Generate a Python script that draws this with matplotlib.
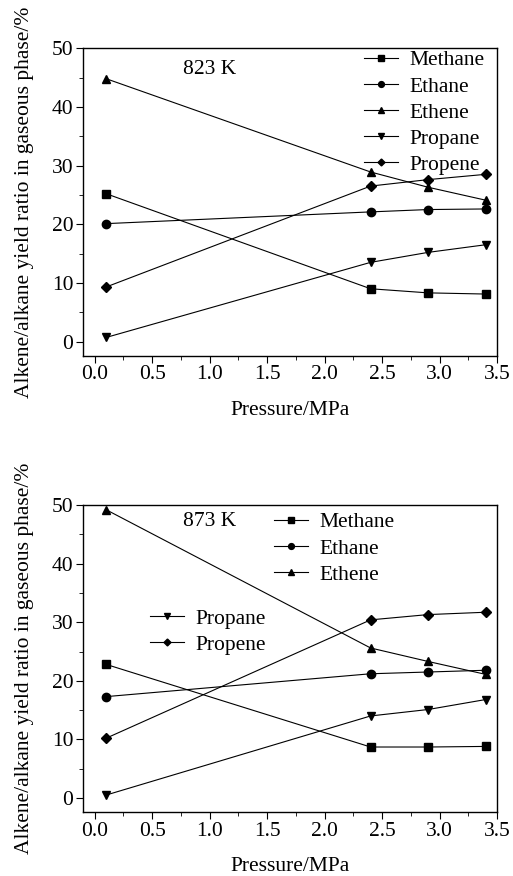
import matplotlib
matplotlib.use("Agg")
import matplotlib.pyplot as plt
from matplotlib.ticker import MultipleLocator, FormatStrFormatter

plt.rcParams["font.family"] = ["Liberation Serif", "DejaVu Serif"]

pressure = [0.1, 2.4, 2.9, 3.4]
series_names = ["Methane", "Ethane", "Ethene", "Propane", "Propene"]
markers = ["s", "o", "^", "v", "D"]

# 823 K
methane_823 = [25.2, 9.0, 8.3, 8.1]
ethane_823 = [20.1, 22.1, 22.5, 22.6]
ethene_823 = [44.8, 28.9, 26.3, 24.1]
propane_823 = [0.7, 13.5, 15.2, 16.5]
propene_823 = [9.3, 26.5, 27.6, 28.5]

# 873 K
methane_873 = [22.8, 8.7, 8.7, 8.8]
ethane_873 = [17.3, 21.2, 21.5, 21.8]
ethene_873 = [49.2, 25.6, 23.3, 21.1]
propane_873 = [0.5, 14.0, 15.1, 16.8]
propene_873 = [10.2, 30.4, 31.3, 31.7]

ylabel = "Alkene/alkane yield ratio in gaseous phase/%"
xlabel = "Pressure/MPa"

FS = 15.5


def style_axes(ax):
    ax.set_xlim(-0.1, 3.5)
    ax.set_ylim(-2.4, 50)
    ax.xaxis.set_major_locator(MultipleLocator(0.5))
    ax.xaxis.set_minor_locator(MultipleLocator(0.25))
    ax.yaxis.set_major_locator(MultipleLocator(10))
    ax.yaxis.set_minor_locator(MultipleLocator(5))
    ax.tick_params(which="both", direction="out", top=False, right=False,
                   labelsize=FS, pad=2)
    ax.tick_params(which="major", length=5)
    ax.tick_params(which="minor", length=3)
    ax.xaxis.set_major_formatter(FormatStrFormatter("%.1f"))
    ax.set_xlabel(xlabel, fontsize=FS, labelpad=12)
    ax.set_ylabel(ylabel, fontsize=FS, labelpad=13)
    for s in ax.spines.values():
        s.set_linewidth(1.0)


def draw(ax, data):
    handles = []
    for name, mk, vals in zip(series_names, markers, data):
        ms = 5 if mk == "D" else 6
        h, = ax.plot(pressure, vals, color="black", lw=0.8, marker=mk,
                     markersize=ms, label=name)
        handles.append(h)
    return handles


leg_kw = dict(frameon=False, fontsize=FS, handlelength=1.6, handletextpad=0.5,
              labelspacing=0.28, markerscale=0.7, borderaxespad=0.2)

fig = plt.figure(figsize=(5.13, 8.76), dpi=100)

ax1 = fig.add_axes([0.162, 0.594, 0.807, 0.351])
h1 = draw(ax1, [methane_823, ethane_823, ethene_823, propane_823, propene_823])
style_axes(ax1)
ax1.text(0.77, 46.3, "823 K", fontsize=FS, ha="left", va="center")
ax1.legend(handles=h1, loc="upper right", bbox_to_anchor=(1.0, 1.035), **leg_kw)

ax2 = fig.add_axes([0.162, 0.073, 0.807, 0.3505])
h2 = draw(ax2, [methane_873, ethane_873, ethene_873, propane_873, propene_873])
style_axes(ax2)
ax2.text(0.77, 47.2, "873 K", fontsize=FS, ha="left", va="center")
leg1 = ax2.legend(handles=h2[:3], loc="upper left", bbox_to_anchor=(0.43, 1.018),
                  **leg_kw)
ax2.add_artist(leg1)
ax2.legend(handles=h2[3:], loc="upper left", bbox_to_anchor=(0.13, 0.705), **leg_kw)

fig.savefig("out.png", dpi=100)
